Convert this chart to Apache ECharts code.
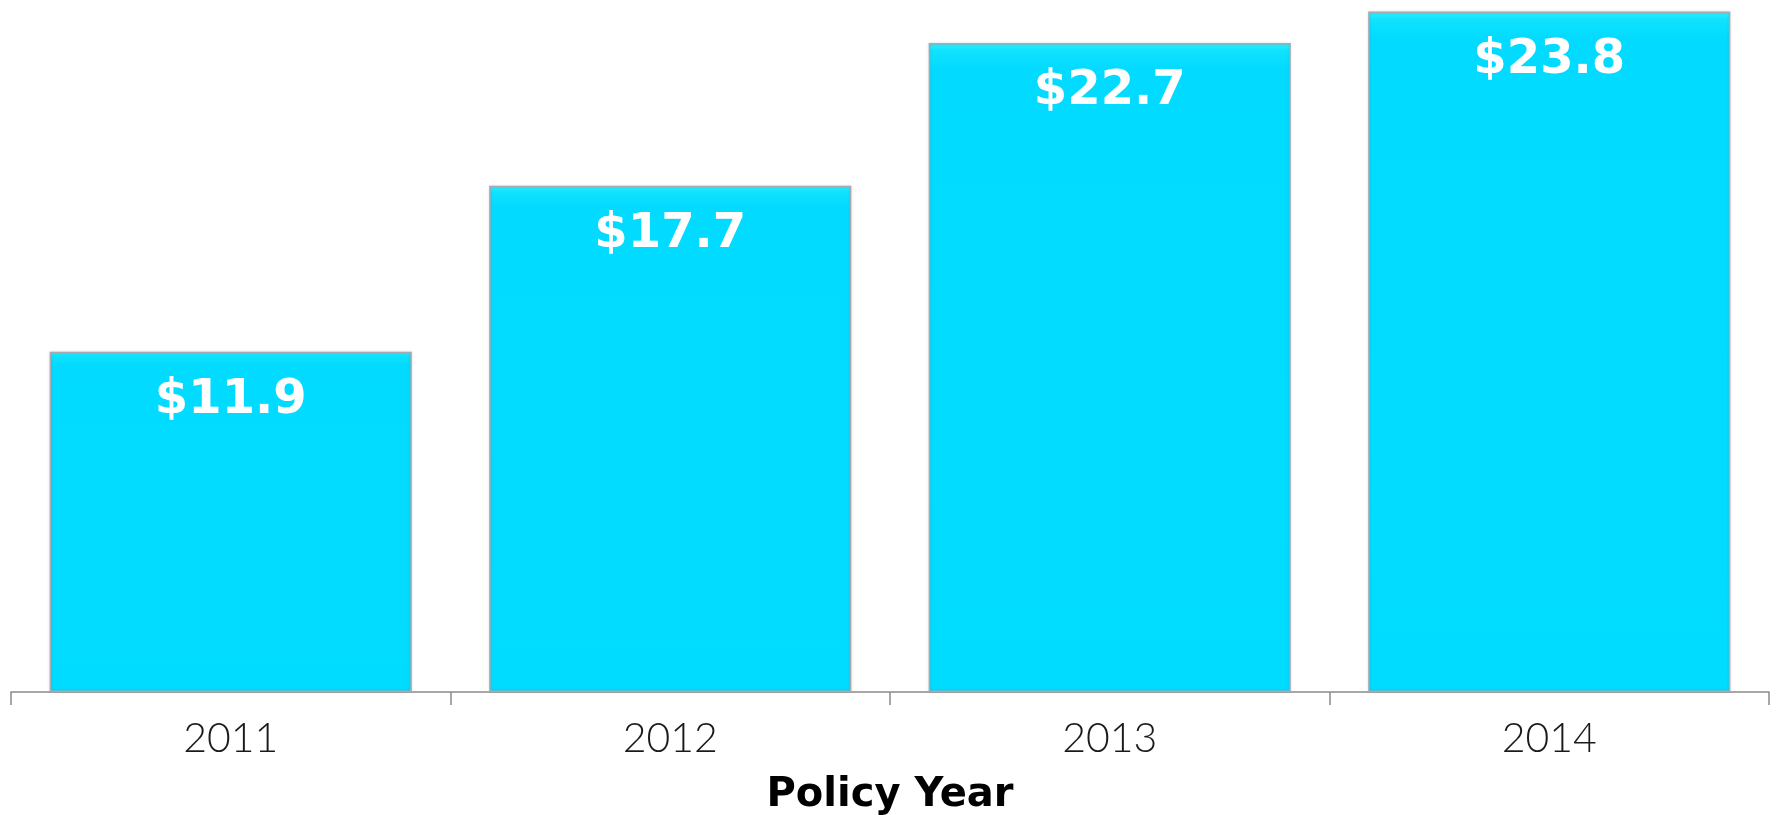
<!DOCTYPE html>
<html>
<head>
<meta charset="utf-8">
<script src="https://cdn.jsdelivr.net/npm/echarts@6/dist/echarts.min.js"></script>
<style>html,body{margin:0;padding:0;background:#fff;}#c{width:1777px;height:815px;}</style>
</head>
<body>
<div id="c"></div>
<script>
var categories = ['2011', '2012', '2013', '2014'];
var values = [11.9, 17.7, 22.7, 23.8];
var axisTitle = 'Policy Year';

var chart = echarts.init(document.getElementById('c'), null, {renderer: 'canvas'});
chart.setOption({
  animation: false,
  backgroundColor: '#ffffff',
  grid: {left: 11, right: 8, top: 0, bottom: 123, containLabel: false, outerBoundsMode: 'none'},
  xAxis: {
    type: 'category',
    data: categories,
    axisLine: {lineStyle: {color: '#8a8a8a', width: 1.5}},
    axisTick: {show: true, length: 13, lineStyle: {color: '#8a8a8a', width: 1.5}},
    axisLabel: {color: '#1a1a1a', fontFamily: 'Lato', fontWeight: 300, fontSize: 41, margin: 26},
    name: axisTitle,
    nameLocation: 'middle',
    nameGap: 84,
    nameTextStyle: {color: '#000', fontFamily: 'DejaVu Sans', fontWeight: 'bold', fontSize: 40}
  },
  yAxis: {
    type: 'value', min: 0, max: 24.2, show: false, splitLine: {show: false}
  },
  series: [{
    type: 'bar',
    data: values,
    barCategoryGap: '17.6%',
    itemStyle: {
      color: new echarts.graphic.LinearGradient(0, 0, 0, 1, [
        {offset: 0, color: '#2ef0ff'},
        {offset: 0.012, color: '#10e2fe'},
        {offset: 0.04, color: '#02dbff'},
        {offset: 1, color: '#00dcff'}
      ]),
      borderColor: '#a9a9b4',
      borderWidth: 1.5,
      shadowColor: 'rgba(0,0,0,0.12)',
      shadowBlur: 3
    },
    label: {
      show: true,
      position: 'insideTop',
      distance: 25,
      formatter: function (p) { return '$' + p.value.toFixed(1); },
      color: '#ffffff',
      fontFamily: 'DejaVu Sans',
      fontWeight: 'bold',
      fontSize: 48
    }
  }]
});
</script>
</body>
</html>
